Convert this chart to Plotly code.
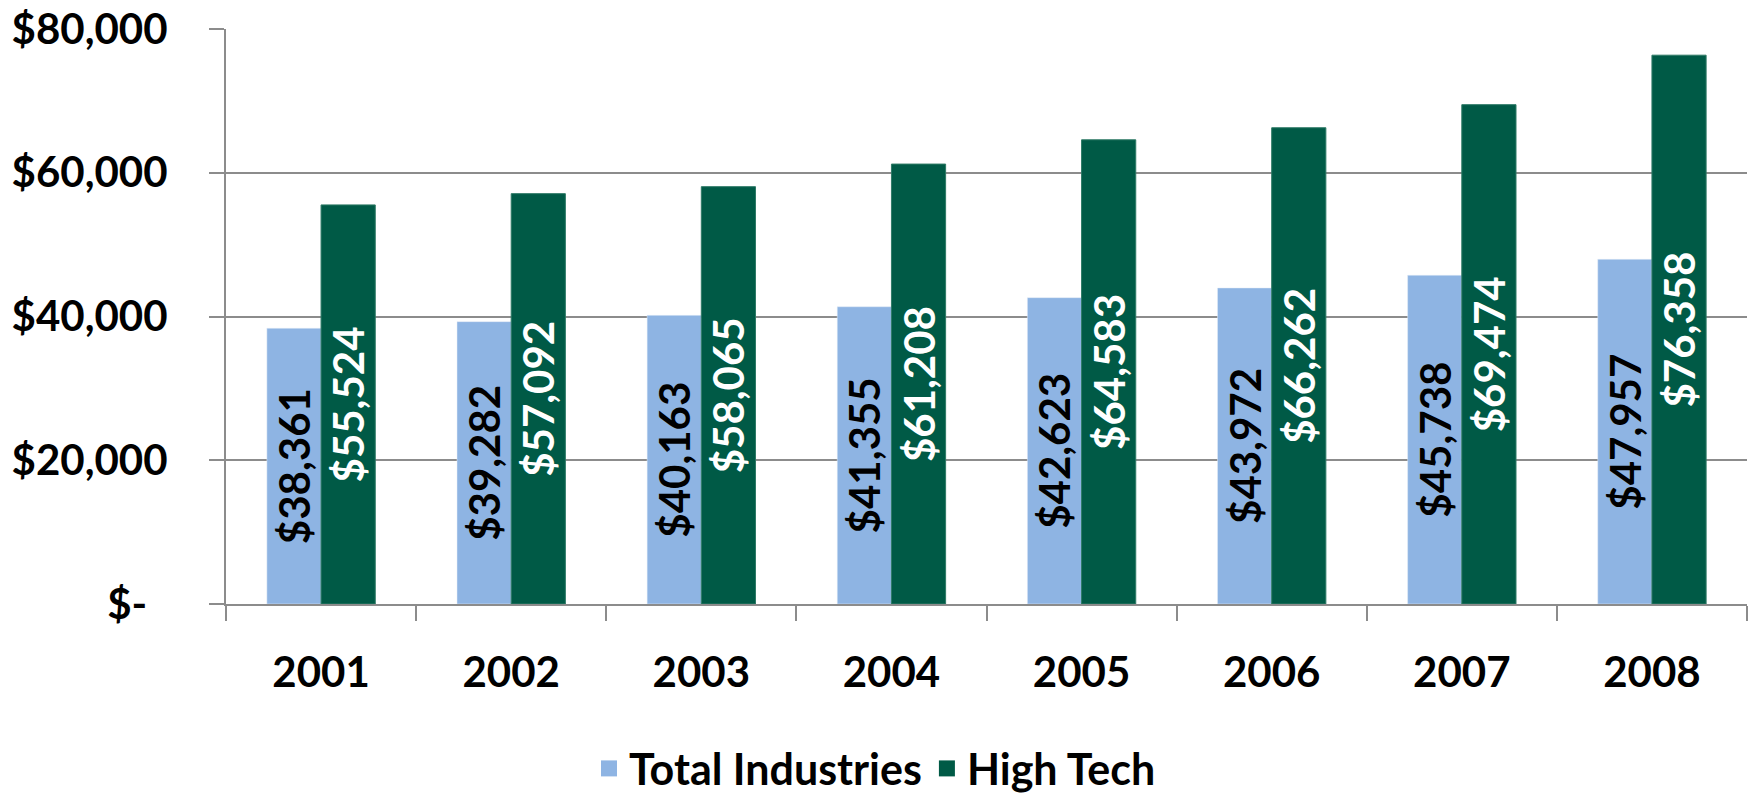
import plotly.graph_objects as go

years = ["2001", "2002", "2003", "2004", "2005", "2006", "2007", "2008"]
total_industries = [38361, 39282, 40163, 41355, 42623, 43972, 45738, 47957]
high_tech = [55524, 57092, 58065, 61208, 64583, 66262, 69474, 76358]
y_tickvals = [0, 20000, 40000, 60000, 80000]
y_ticktext = ["$-\u00a0\u00a0", "$20,000", "$40,000", "$60,000", "$80,000"]

FONT = "Lato"
C_TOTAL = "#8EB4E3"
C_HIGH = "#005A46"

fig = go.Figure()
fig.add_trace(go.Bar(
    x=years, y=total_industries, name="Total Industries", showlegend=False,
    marker=dict(color=C_TOTAL),
    texttemplate="$%{y:,.0f}", textposition="inside", insidetextanchor="middle",
    textangle=-90, constraintext="none",
    insidetextfont=dict(family=FONT, size=42, color="black", weight="bold"),
))
fig.add_trace(go.Bar(
    x=years, y=high_tech, name="High Tech", showlegend=False,
    marker=dict(color=C_HIGH, line=dict(color="#2E7A66", width=1)),
    texttemplate="$%{y:,.0f}", textposition="inside", insidetextanchor="middle",
    textangle=-90, constraintext="none",
    insidetextfont=dict(family=FONT, size=42, color="white", weight="bold"),
))
# legend entries with larger square swatches
for name, col in [("Total Industries", C_TOTAL), ("High Tech", C_HIGH)]:
    fig.add_trace(go.Scatter(
        x=[None], y=[None], mode="markers", name=name,
        marker=dict(symbol="square", size=26, color=col),
        hoverinfo="skip",
    ))

fig.update_layout(
    width=1750, height=794,
    margin=dict(l=226, r=3, t=29, b=190, autoexpand=False),
    paper_bgcolor="white", plot_bgcolor="white",
    barmode="group", bargap=0.43, bargroupgap=0,
    font=dict(family=FONT, size=42, color="black", weight="bold"),
    showlegend=True,
    legend=dict(orientation="h", xref="container", x=0.5, xanchor="center",
                yref="paper", y=-0.226, yanchor="top",
                font=dict(family=FONT, size=43, color="black", weight="bold"),
                itemsizing="trace", itemwidth=30, traceorder="normal"),
)
fig.update_xaxes(
    automargin=False,
    showline=True, linecolor="#8C8C8C", linewidth=2,
    ticks="outside", tickson="boundaries", ticklen=15, tickcolor="#8C8C8C", tickwidth=2,
    ticklabelstandoff=31,
    tickfont=dict(family=FONT, size=42, color="black", weight="bold"),
    showgrid=False,
)
fig.update_yaxes(
    automargin=False, ticklabeloverflow="allow",
    range=[0, 80000], tickvals=y_tickvals, ticktext=y_ticktext,
    showline=True, linecolor="#8C8C8C", linewidth=2,
    ticks="outside", ticklen=15, tickcolor="#8C8C8C", tickwidth=2,
    ticklabelstandoff=33,
    showgrid=True, gridcolor="#8C8C8C", gridwidth=2,
    tickfont=dict(family=FONT, size=42, color="black", weight="bold"),
    zeroline=False,
)

fig.write_html(
    "out.html",
    config={"displayModeBar": False},
    post_script="document.body.style.margin='0';document.body.style.overflow='hidden';",
)
